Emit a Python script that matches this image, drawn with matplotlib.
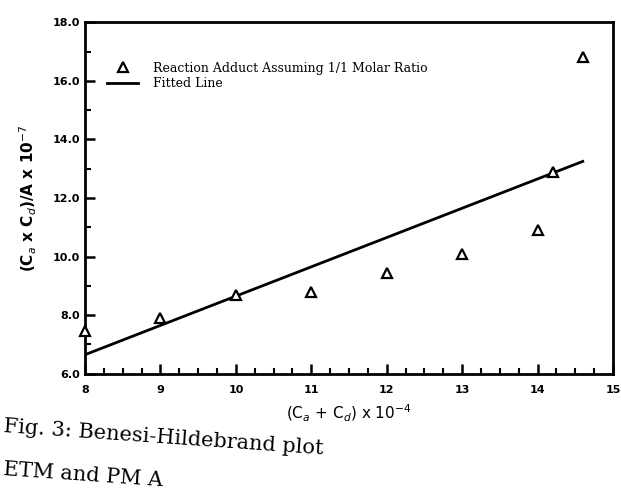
import matplotlib
matplotlib.use("Agg")
import matplotlib.pyplot as plt
import numpy as np

# Data (correcting for the scan's skew)
conc_sum = [8.0, 9.0, 10.0, 11.0, 12.0, 13.0, 14.0, 14.2, 14.6]
ratio = [7.45, 7.9, 8.7, 8.8, 9.45, 10.1, 10.9, 12.9, 16.8]
fit_x = [8.0, 14.6]
fit_y = [6.65, 13.25]
y_ticks = [6, 8, 10, 12, 14, 16, 18]
y_tick_labels = ["6.0", "8.0", "10.0", "12.0", "14.0", "16.0", "18.0"]
x_ticks = [8, 9, 10, 11, 12, 13, 14, 15]

fig = plt.figure(figsize=(6.21, 4.95), dpi=100)
ax = fig.add_axes([0.137, 0.245, 0.85, 0.71])

ax.plot(conc_sum, ratio, linestyle="none", marker="^", markersize=7,
        markerfacecolor="white", markeredgecolor="black", markeredgewidth=1.6,
        label="Reaction Adduct Assuming 1/1 Molar Ratio", clip_on=False, zorder=3)
ax.plot(fit_x, fit_y, color="black", linewidth=2.0, label="Fitted Line")

ax.set_xlim(8, 15)
ax.set_ylim(6, 18)
ax.set_yticks(y_ticks)
ax.set_yticklabels(y_tick_labels)
ax.set_xticks(x_ticks)
ax.set_xticks(np.arange(8, 15.01, 0.25), minor=True)
ax.set_yticks(np.arange(6, 18.01, 1), minor=True)

for s in ax.spines.values():
    s.set_linewidth(2.0)
ax.tick_params(axis="both", which="major", direction="in", length=7, width=1.8,
               labelsize=8)
ax.tick_params(axis="both", which="minor", direction="in", length=4, width=1.5)
ax.tick_params(axis="x", pad=8)
for lab in ax.get_xticklabels() + ax.get_yticklabels():
    lab.set_fontweight("bold")

ax.set_ylabel(r"(C$_a$ x C$_d$)/A x 10$^{-7}$", fontsize=11, fontweight="bold",
              labelpad=10)
ax.set_xlabel(r"(C$_a$ + C$_d$) x 10$^{-4}$", fontsize=11, labelpad=6)

leg = ax.legend(loc="upper left", bbox_to_anchor=(0.02, 0.92), frameon=False,
                prop={"family": "DejaVu Serif", "size": 9}, handlelength=2.5,
                handletextpad=1.2, labelspacing=0.2)

fig.text(0.005, 0.075, "Fig. 3: Benesi-Hildebrand plot", fontsize=15,
         family="DejaVu Serif", rotation=-4, ha="left", va="bottom")
fig.text(0.005, 0.01, "ETM and PM A", fontsize=15,
         family="DejaVu Serif", rotation=-4, ha="left", va="bottom")

fig.savefig("out.png", dpi=100)
